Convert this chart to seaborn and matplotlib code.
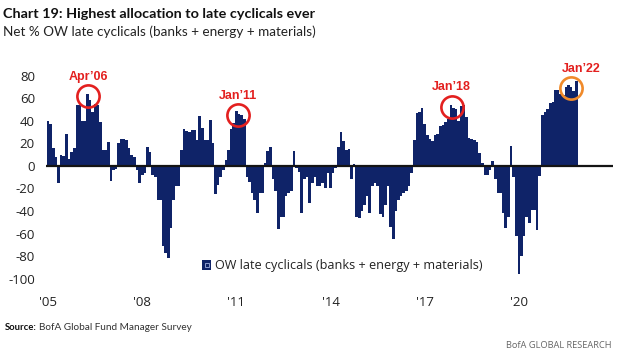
import matplotlib
matplotlib.use("Agg")
import matplotlib.pyplot as plt
import seaborn as sns
import pandas as pd
from matplotlib.patches import Rectangle, Patch
from matplotlib.legend_handler import HandlerBase

# ---------------- data (monthly from '05) ----------------
values = [
    40, 37, 16, 8, -15, 10, 9, 28, 6, 12,
    16, 54, 54, 40, 40, 64, 58, 48, 55, 54,
    39, 14, 14, 21, -13, -4, -3, 20, 24, 24,
    23, 16, 10, 8, -4, -15, -8, -6, 17, 12,
    -8, -10, -30, -30, -71, -77, -82, -55, -30, -18,
    -18, 14, 33, 31, 30, 32, 32, 23, 44, 34,
    23, 23, 41, 20, -25, -17, -10, -4, 5, 14,
    33, 38, 49, 46, 45, 42, -10, -14, -24, -30,
    -42, -24, -24, 3, 13, 17, -12, -22, -56, -45,
    -45, -27, -24, -22, 13, -2, -5, -42, -12, -10,
    -33, -15, -10, -18, -18, -15, -20, -6, -20, -6,
    -2, 17, 30, 22, 14, 15, -12, 2, -45, -46,
    -40, -35, -27, -42, -18, -15, -18, -43, -45, -35,
    -18, -54, -65, -40, -30, -27, -24, -22, -18, -6,
    23, 47, 48, 51, 37, 27, 24, 22, 27, 28,
    35, 36, 39, 42, 54, 51, 50, 40, 53, 54,
    43, 25, 24, 23, 21, 11, 3, -8, -8, -4,
    4, -12, -24, -24, -42, -55, -45, 18, -10, -62,
    -96, -80, -62, -45, -51, -39, -39, -57, -9, 45,
    48, 50, 56, 57, 67, 67, 64, 63, 70, 72,
    70, 66, 75,
]
series_name = "OW late cyclicals (banks + energy + materials)"
tick_labels = ["'05", "'08", "'11", "'14", "'17", "'20"]
tick_index = [0, 36, 72, 108, 144, 180]
y_ticks = [-100, -80, -60, -40, -20, 0, 20, 40, 60, 80]
annot_labels = ["Apr\u201906", "Jan\u201911", "Jan\u201918", "Jan\u201922"]
annot_index = [15, 72, 154, 201]

title = "Chart 19: Highest allocation to late cyclicals ever"
subtitle = "Net % OW late cyclicals (banks + energy + materials)"
source_head = "Source:"
source_body = "BofA Global Fund Manager Survey"
brand = "BofA GLOBAL RESEARCH"

# ---------------- style ----------------
NAVY = "#0f2368"
RED = "#e3201f"
ORANGE = "#f08a2a"
annot_colors = [RED, RED, RED, ORANGE]
annot_dx = [0.4, 0.7, 0.3, -0.9]      # circle offsets (months)
annot_dy = [-2, -4, -1.5, 3]          # circle offsets (value units)
label_dx = [0, 0, 0, 7]               # label offsets (points)

sns.set_style("white")
plt.rcParams["font.family"] = ["Open Sans", "DejaVu Sans"]
NARROW = ["Liberation Sans Narrow", "Lato", "DejaVu Sans"]

W, H = 630, 356
fig = plt.figure(figsize=(W / 100, H / 100), dpi=100)
ax = fig.add_axes([46 / W, 66 / H, 567 / W, 220 / H])

df = pd.DataFrame({"pos": list(range(len(values))), "value": values})
sns.barplot(data=df, x="pos", y="value", color=NAVY, saturation=1,
            width=1.0, errorbar=None, linewidth=0, ax=ax, zorder=2)

ax.axhline(0, color="#141414", lw=1.6, zorder=3)
ax.set_xlim(-0.8, 216)
ax.set_ylim(-110, 85)
ax.set_xticks(tick_index)
ax.set_xticklabels(tick_labels)
ax.set_yticks(y_ticks)
ax.set_yticklabels([str(v) for v in y_ticks])
ax.tick_params(axis="y", length=0, pad=8, labelsize=9.5, colors="#222222")
ax.tick_params(axis="x", length=0, pad=4, labelsize=9.5, colors="#222222")
ax.set_xlabel("")
ax.set_ylabel("")
for s in ax.spines.values():
    s.set_visible(False)

# annotations: circles + labels
for lab, idx, c, dx, dy, ldx in zip(annot_labels, annot_index, annot_colors,
                                    annot_dx, annot_dy, label_dx):
    cx, cy = idx + dx, values[idx] + dy
    ax.plot([cx], [cy], marker="o", ms=16, mfc="none", mec=c, mew=1.9,
            clip_on=False, zorder=6)
    ax.annotate(lab, (cx, cy), xytext=(ldx, 14), textcoords="offset points",
                ha="center", va="center", color=RED, fontsize=9,
                fontweight="bold", family=["Liberation Sans", "DejaVu Sans"],
                annotation_clip=False, zorder=7)

# ---------------- text helpers ----------------
fig.canvas.draw()
renderer = fig.canvas.get_renderer()


def fit_size(s, target_px, base=10, **kw):
    t = fig.text(0, 0, s, fontsize=base, **kw)
    w = t.get_window_extent(renderer).width
    t.remove()
    return base * target_px / w


def fy(py):
    return 1 - py / H


fs = fit_size(title, 312, fontweight="bold", family=NARROW)
fig.text(3 / W, fy(14), title, fontsize=fs, fontweight="bold", family=NARROW,
         ha="left", va="center", color="#111111")
fs = fit_size(subtitle, 310, family=NARROW)
fig.text(3 / W, fy(32), subtitle, fontsize=fs, family=NARROW,
         ha="left", va="center", color="#222222")

fs_sh = fit_size(source_head, 32, fontweight="bold", family=NARROW)
fs_sb = fit_size(source_body, 152, family=NARROW)
fig.text(5 / W, fy(327), source_head, fontsize=fs_sh, fontweight="bold",
         family=NARROW, ha="left", va="center", color="#111111")
fig.text(39 / W, fy(327), source_body, fontsize=fs_sb, family=NARROW,
         ha="left", va="center", color="#333333")

fs = fit_size(brand, 106, family=["Open Sans", "DejaVu Sans"])
fig.text(612 / W, fy(345), brand, fontsize=fs, ha="right", va="center",
         color="#666666")


# ---------------- legend ----------------
class BoxHandler(HandlerBase):
    def create_artists(self, legend, orig_handle, xdescent, ydescent,
                       width, height, fontsize, trans):
        s = min(width, height)
        x0 = -xdescent + (width - s) / 2
        y0 = -ydescent + (height - s) / 2
        outer = Rectangle((x0, y0), s, s, facecolor=NAVY, edgecolor="none",
                          transform=trans)
        inner = Rectangle((x0 + s * 0.3, y0 + s * 0.3), s * 0.4, s * 0.4,
                          facecolor=NAVY, edgecolor="#9fb0e0", lw=0.6,
                          transform=trans)
        return [outer, inner]


leg_fs = fit_size(series_name, 266)
proxy = Patch(facecolor=NAVY)
ax.legend([proxy], [series_name], handler_map={proxy: BoxHandler()},
          loc="center left", bbox_to_anchor=(202 / W, fy(266)),
          bbox_transform=fig.transFigure, frameon=False, fontsize=leg_fs,
          handlelength=0.75, handleheight=0.75, handletextpad=0.25,
          borderpad=0, borderaxespad=0, labelcolor="#222222")

fig.savefig("out.png", dpi=100)
